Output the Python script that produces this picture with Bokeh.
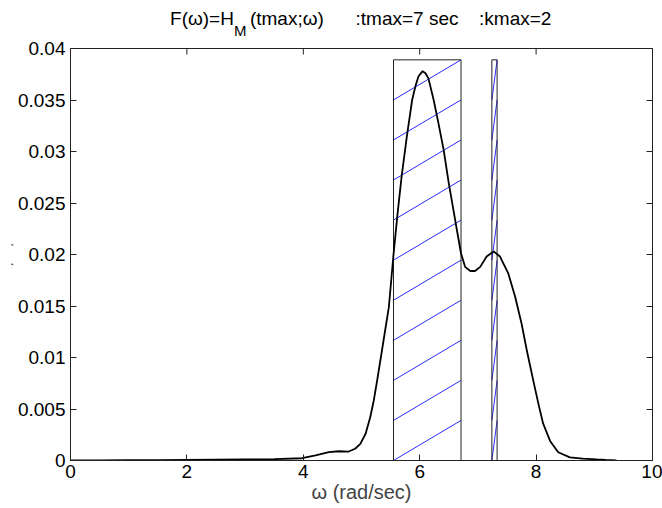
from bokeh.plotting import figure
from bokeh.models import Range1d, FixedTicker, LinearAxis
from bokeh.layouts import column
from bokeh.core.properties import value
from bokeh.embed import file_html
from bokeh.resources import INLINE

# ---- data ----
omega = [0.0, 0.5, 1.0, 1.5, 2.0, 2.5, 3.0, 3.5, 3.98, 4.21, 4.44, 4.61, 4.78,
         4.89, 4.98, 5.07, 5.15, 5.21, 5.27, 5.38, 5.47, 5.55, 5.62, 5.69, 5.78,
         5.87, 5.93, 5.98, 6.05, 6.10, 6.15, 6.24, 6.32, 6.41, 6.50, 6.58, 6.62,
         6.66, 6.71, 6.78, 6.87, 6.95, 7.04, 7.15, 7.27, 7.38, 7.52, 7.64, 7.75,
         7.84, 7.95, 8.04, 8.12, 8.24, 8.38, 8.58, 8.80, 9.04, 9.20, 9.38]
F = [0.00002, 0.00002, 0.00003, 0.00004, 0.00006, 0.00008, 0.0001, 0.00013,
     0.00022, 0.00049, 0.00081, 0.0009, 0.00087, 0.00114, 0.00162, 0.0026,
     0.0042, 0.0058, 0.0078, 0.0117, 0.0149, 0.0200, 0.0240, 0.0276, 0.0315,
     0.0350, 0.0364, 0.0373, 0.0378, 0.0376, 0.0371, 0.0350, 0.0328, 0.0302,
     0.0269, 0.0243, 0.0230, 0.0217, 0.0201, 0.0188, 0.0184, 0.0184, 0.0188,
     0.0198, 0.0203, 0.0198, 0.0182, 0.0159, 0.0133, 0.0107, 0.0078, 0.0055,
     0.0036, 0.0019, 0.0008, 0.0003, 0.00018, 0.0001, 0.00005, 0.00002]

band_left = [5.55, 7.24]
band_right = [6.71, 7.33]
band_top = [0.0389, 0.0389]
n_hatch = 10

x_ticks = [0, 2, 4, 6, 8, 10]
x_labels = ["0", "2", "4", "6", "8", "10"]
y_ticks = [0, 0.005, 0.01, 0.015, 0.02, 0.025, 0.03, 0.035, 0.04]
y_labels = ["0", "0.005", "0.01", "0.015", "0.02", "0.025", "0.03", "0.035", "0.04"]

title_parts = ["F(ω)=H", "M", "(tmax;ω)", ":tmax=7 sec", ":kmax=2"]

FONT = "Liberation Sans"
TITLE_H = 38
BORDER_L, BORDER_R = 68, 10
FRAME_W = 662 - BORDER_L - BORDER_R

# ---- title strip (its frame is aligned with the plot frame by the column) ----
t = figure(width=662, height=TITLE_H, output_backend="svg", toolbar_location=None,
           x_range=Range1d(0, FRAME_W), y_range=Range1d(TITLE_H, 0),
           x_axis_type=None, y_axis_type=None, min_border=0,
           min_border_left=BORDER_L, min_border_right=BORDER_R)
t.grid.visible = False
t.outline_line_color = None
t.background_fill_color = "white"
t.border_fill_color = "white"

def tx(px):
    return [px - BORDER_L]

t.text(x=tx(232), y=[18], text=[title_parts[0]], text_align="right",
       text_baseline="alphabetic", text_font=value(FONT),
       text_font_size="19px", text_color="black")
t.text(x=tx(232), y=[30], text=[title_parts[1]], text_align="left",
       text_baseline="alphabetic", text_font=value(FONT),
       text_font_size="15px", text_color="black")
t.text(x=tx(248), y=[18], text=[title_parts[2]], text_align="left",
       text_baseline="alphabetic", text_font=value(FONT),
       text_font_size="19px", text_color="black")
t.text(x=tx(354), y=[18], text=[title_parts[3]], text_align="left",
       text_baseline="alphabetic", text_font=value(FONT),
       text_font_size="19px", text_color="black")
t.text(x=tx(478), y=[18], text=[title_parts[4]], text_align="left",
       text_baseline="alphabetic", text_font=value(FONT),
       text_font_size="19px", text_color="black")

# ---- main plot ----
p = figure(width=662, height=508 - TITLE_H, output_backend="svg",
           toolbar_location=None,
           x_range=Range1d(0, 10), y_range=Range1d(0, 0.04),
           min_border_left=BORDER_L, min_border_right=BORDER_R, min_border_top=10,
           min_border_bottom=48)
p.grid.visible = False
p.background_fill_color = "white"
p.border_fill_color = "white"
p.outline_line_color = "#222222"
p.outline_line_width = 1

def style_axis(ax, ticks, labels, show_labels=True):
    ax.ticker = FixedTicker(ticks=ticks)
    ax.major_label_overrides = {t_: l for t_, l in zip(ticks, labels)}
    ax.major_tick_in = 6
    ax.major_tick_out = 0
    ax.minor_tick_line_color = None
    ax.major_tick_line_color = "#222222"
    ax.axis_line_color = "#222222"
    ax.major_label_text_font = FONT
    ax.major_label_text_color = "black"
    ax.major_label_text_font_size = "19px" if show_labels else "0px"

style_axis(p.xaxis[0], x_ticks, x_labels)
style_axis(p.yaxis[0], y_ticks, y_labels)
p.xaxis[0].major_label_standoff = 4
p.yaxis[0].major_label_standoff = 5

p.xaxis[0].axis_label = "ω (rad/sec)"
p.xaxis[0].axis_label_text_font = FONT
p.xaxis[0].axis_label_text_font_style = "normal"
p.xaxis[0].axis_label_text_font_size = "20px"
p.xaxis[0].axis_label_standoff = 0

p.yaxis[0].axis_label = "." + "\u00a0" * 6 + "."
p.yaxis[0].axis_label_text_font = FONT
p.yaxis[0].axis_label_text_font_style = "bold"
p.yaxis[0].axis_label_text_font_size = "10px"
p.yaxis[0].axis_label_standoff = 0

right_ax = LinearAxis()
style_axis(right_ax, y_ticks, ["" for _ in y_labels], show_labels=False)
right_ax.major_label_standoff = 0
p.add_layout(right_ax, "right")

# top-edge inward ticks (box style), derived from the x tick list
tick_len_y = 6 * 0.04 / 412
p.segment(x0=x_ticks, y0=[0.04] * len(x_ticks), x1=x_ticks,
          y1=[0.04 - tick_len_y] * len(x_ticks), line_color="#222222",
          line_width=1)

# hatch lines inside bands
hx, hy = [], []
for x0, x1, h in zip(band_left, band_right, band_top):
    for k in range(n_hatch):
        hx.append([x0, x1])
        hy.append([k * h / n_hatch, (k + 1) * h / n_hatch])
p.multi_line(hx, hy, line_color="#2b2bff", line_width=1)

p.quad(left=band_left, right=band_right, bottom=[0, 0], top=band_top,
       fill_color=None, line_color="#222222", line_width=1)

p.line(omega, F, line_color="black", line_width=1.8)

layout = column(t, p, spacing=0)
open("out.html", "w").write(file_html(layout, INLINE))
